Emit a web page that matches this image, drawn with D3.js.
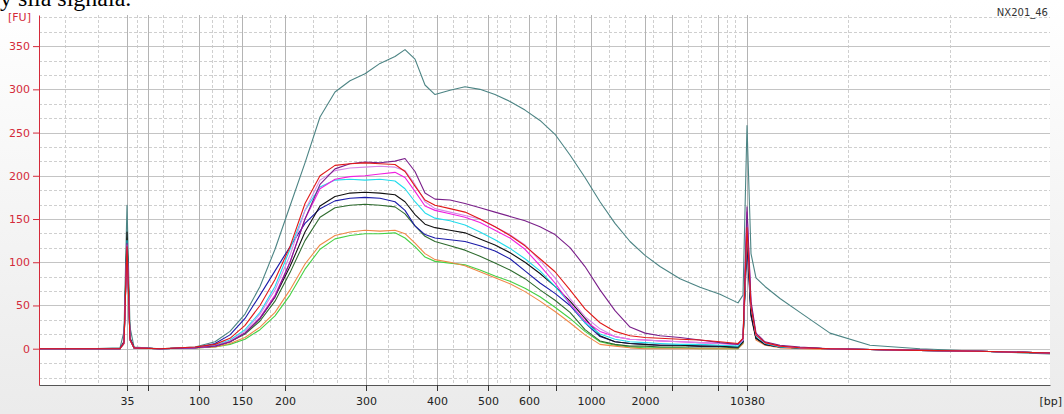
<!DOCTYPE html>
<html>
<head>
<meta charset="utf-8">
<script src="https://cdn.jsdelivr.net/npm/d3@7"></script>
<style>
  body { margin: 0; background: #fff; }
  svg { display: block; }
</style>
</head>
<body>
<div class="container"></div>
<script>
// migration time (s) of each sample point
const times = [30.0, 35.1, 38.1, 38.5, 38.8, 39.1, 39.5, 42.1, 45.6, 47.6, 49.1, 50.6, 52.1, 53.6, 55.1, 56.6, 58.1, 59.6, 61.1, 62.6,
  64.1, 65.6, 66.6, 67.6, 68.6, 69.6, 71.1, 72.6, 74.1, 75.6, 77.1, 78.6, 80.1, 81.6, 83.1, 84.6, 86.1, 87.6, 89.1, 90.6,
  92.1, 94.1, 96.1, 98.1, 99.9, 100.4, 100.8, 101.2, 101.7, 102.6, 104.1, 106.1, 109.1, 113.1, 118.1, 124.1, 131.1];

// ladder peaks: size (bp) and where they migrate
const ladderBp = [35, 50, 100, 150, 200, 300, 400, 500, 600, 700, 1000, 2000, 3000, 7000, 10380];
const ladderTime = [38.8, 40.9, 46.0, 50.3, 54.6, 62.7, 69.8, 74.9, 79.0, 81.7, 85.2, 90.6, 93.3, 97.9, 100.8];
const labelledBp = [35, 100, 150, 200, 300, 400, 500, 600, 1000, 2000, 10380];
const minorGridTimes = [32.6, 35.9, 39.8, 42.4, 44.3, 47.3, 48.4, 49.8, 53.1, 57.4, 59.8, 64.9, 67.4, 71.4, 72.8, 75.8, 77.1,
  80.7, 83.5, 87.0, 88.6, 91.4, 94.9, 96.2, 98.8, 99.6, 110.9, 121.1];

const yTicks = [0, 50, 100, 150, 200, 250, 300, 350];

// fluorescence (FU) of each sample
const teal = [0, 0, 1, 20, 166, 25, 2, 0, 2, 8, 20, 40, 72, 115, 165, 215, 268, 297, 310, 318,
  330, 338, 346, 335, 305, 294, 299, 303, 300, 294, 286, 276, 264, 248, 224, 198, 170, 145, 124, 108,
  95, 81, 71, 63, 53, 62, 258, 110, 82, 72, 58, 42, 18, 4, 0, -3, -6];
const purple = [0, 0, 0, 8, 122, 12, 1, 0, 1, 3, 8, 18, 35, 60, 100, 150, 190, 208, 214, 216,
  215, 217, 220, 205, 180, 173, 172, 168, 163, 158, 153, 148, 141, 132, 117, 95, 68, 44, 25, 18,
  15, 13, 10, 7, 5, 12, 164, 55, 18, 8, 4, 2, 0, -1, -2, -3, -5];
const red = [0, 0, 0, 6, 118, 10, 1, 0, 2, 5, 12, 27, 50, 80, 118, 168, 200, 212, 214, 215,
  214, 213, 205, 188, 172, 166, 162, 158, 150, 141, 131, 119, 104, 89, 68, 46, 30, 20, 15, 13,
  12, 11, 10, 8, 6, 12, 140, 48, 16, 7, 3, 1, 0, -1, -2, -3, -5];
const orchid = [0, 0, 0, 6, 120, 10, 1, 0, 1, 3, 9, 20, 40, 68, 108, 160, 195, 206, 209, 210,
  211, 210, 206, 190, 170, 162, 158, 154, 150, 141, 132, 120, 102, 82, 58, 37, 23, 14, 11, 10,
  9, 8, 7, 6, 5, 10, 150, 50, 16, 7, 3, 1, 0, -1, -2, -3, -5];
const magenta = [0, 0, 0, 6, 120, 10, 1, 0, 1, 3, 8, 18, 36, 62, 100, 150, 185, 196, 199, 200,
  202, 204, 198, 182, 165, 160, 156, 152, 146, 137, 128, 115, 96, 76, 52, 32, 20, 14, 11, 10,
  9, 8, 7, 6, 5, 10, 158, 52, 16, 7, 3, 1, 0, -1, -2, -3, -5];
const cyan = [0, 0, 0, 6, 125, 10, 1, 0, 1, 4, 10, 22, 42, 72, 115, 160, 187, 195, 196, 195,
  196, 194, 185, 170, 157, 151, 148, 143, 135, 126, 116, 104, 90, 72, 52, 30, 17, 11, 8, 7,
  6, 5, 5, 4, 3, 10, 145, 48, 15, 6, 2, 1, 0, -1, -2, -3, -5];
const black = [0, 0, 0, 8, 135, 12, 1, 0, 1, 3, 8, 18, 35, 60, 95, 135, 165, 176, 180, 181,
  180, 178, 170, 155, 144, 140, 137, 134, 127, 120, 111, 100, 87, 72, 55, 35, 15, 8, 6, 5,
  4, 4, 3, 3, 2, 8, 132, 40, 12, 5, 2, 1, 0, -1, -2, -3, -5];
const blue = [0, 0, 0, 7, 125, 11, 1, 0, 1, 6, 16, 35, 62, 90, 118, 145, 162, 171, 174, 175,
  174, 170, 160, 142, 132, 128, 126, 124, 119, 113, 104, 90, 76, 64, 50, 30, 14, 8, 6, 5,
  4, 4, 3, 3, 2, 8, 120, 38, 12, 5, 2, 1, 0, -1, -2, -3, -5];
const darkGreen = [0, 0, 0, 8, 128, 12, 1, 0, 1, 3, 8, 17, 32, 55, 88, 125, 152, 163, 166, 167,
  166, 164, 156, 142, 130, 124, 119, 114, 107, 99, 91, 81, 68, 56, 42, 22, 9, 5, 3, 3,
  2, 2, 2, 2, 1, 8, 138, 42, 12, 5, 2, 1, 0, -1, -2, -3, -5];
const orange = [0, 0, 0, 6, 118, 10, 1, 0, 1, 2, 6, 13, 25, 42, 68, 98, 120, 131, 135, 137,
  136, 137, 133, 122, 110, 103, 100, 96, 89, 82, 75, 66, 55, 43, 30, 16, 5, 3, 1, 0,
  0, 0, 0, 0, 0, 6, 128, 38, 10, 4, 1, 0, -1, -1, -2, -3, -5];
const green = [0, 0, 0, 6, 120, 10, 1, 0, 1, 2, 5, 11, 22, 38, 62, 92, 115, 127, 131, 133,
  133, 134, 128, 118, 106, 101, 99, 97, 91, 84, 78, 70, 60, 48, 35, 20, 8, 4, 2, 1,
  1, 1, 0, 0, 0, 6, 142, 42, 12, 5, 2, 1, 0, -1, -2, -3, -5];

const series = [teal, green, orange, darkGreen, blue, black, cyan, magenta, orchid, purple, red];
const colors = ['#4c8484', '#44d044', '#f08848', '#2e6b2e', '#1a1aa8', '#111111', '#22dcec', '#f020e0', '#d888e8', '#7a1f8a', '#e01818'];

const width = 1064, height = 414;
const margin = {left: 39, right: 14, top: 15, bottom: 29};

const svg = d3.select('.container').append('svg')
  .attr('width', width)
  .attr('height', height);

const grad = svg.append('defs').append('linearGradient')
  .attr('id', 'bg').attr('x1', 0).attr('y1', 0).attr('x2', 0).attr('y2', 1);
grad.append('stop').attr('offset', '0%').attr('stop-color', '#ffffff');
grad.append('stop').attr('offset', '100%').attr('stop-color', '#ebebeb');
svg.append('rect').attr('width', width).attr('height', height).attr('fill', 'url(#bg)');

// scales
const x = d3.scaleLinear().domain([30.0, 131.1]).range([margin.left, width - margin.right]);
const y = d3.scaleLinear().domain([-42, 386]).range([height - margin.bottom, margin.top]);
const bpToTime = d3.scaleLinear().domain(ladderBp).range(ladderTime);

svg.append('rect')
  .attr('x', x.range()[0]).attr('y', y.range()[1])
  .attr('width', x.range()[1] - x.range()[0])
  .attr('height', y.range()[0] - y.range()[1])
  .attr('fill', '#fff');

// grid
const minorY = d3.range(-2, 24).map(i => i * 50 / 3).filter(v => v % 50 !== 0 && Math.abs(v % 50) > 0.1);
svg.append('g').selectAll('line').data(minorY).enter().append('line')
  .attr('x1', x.range()[0]).attr('x2', x.range()[1])
  .attr('y1', d => Math.round(y(d)) + 0.5).attr('y2', d => Math.round(y(d)) + 0.5)
  .attr('stroke', '#cfcfcf').attr('stroke-dasharray', '3,2');
svg.append('g').selectAll('line').data(minorGridTimes).enter().append('line')
  .attr('x1', d => Math.round(x(d)) + 0.5).attr('x2', d => Math.round(x(d)) + 0.5)
  .attr('y1', y.range()[1]).attr('y2', y.range()[0])
  .attr('stroke', '#cfcfcf').attr('stroke-dasharray', '3,2');
svg.append('g').selectAll('line').data(yTicks).enter().append('line')
  .attr('x1', x.range()[0]).attr('x2', x.range()[1])
  .attr('y1', d => Math.round(y(d)) + 0.5).attr('y2', d => Math.round(y(d)) + 0.5)
  .attr('stroke', '#c4c4c4');
svg.append('g').selectAll('line').data(ladderBp).enter().append('line')
  .attr('x1', d => Math.round(x(bpToTime(d))) + 0.5).attr('x2', d => Math.round(x(bpToTime(d))) + 0.5)
  .attr('y1', y.range()[1]).attr('y2', y.range()[0])
  .attr('stroke', '#b4b4b4');

// traces
const line = d3.line()
  .x((d, i) => x(times[i]))
  .y(d => y(d));

svg.append('g').selectAll('path').data(series).enter().append('path')
  .attr('d', d => line(d))
  .attr('fill', 'none')
  .attr('stroke', (d, i) => colors[i])
  .attr('stroke-width', 1.1)
  .attr('stroke-linejoin', 'round');

// axes
const xAxis = d3.axisBottom(x)
  .tickValues(ladderBp.map(d => bpToTime(d)))
  .tickFormat((d, i) => labelledBp.includes(ladderBp[i]) ? ladderBp[i] : '')
  .tickSize(6).tickSizeOuter(0).tickPadding(6);
const gx = svg.append('g')
  .attr('transform', `translate(0, ${y.range()[0]})`)
  .call(xAxis);
gx.selectAll('text').attr('fill', '#222').style('font', '11px "DejaVu Sans", sans-serif');
gx.selectAll('line').attr('stroke', '#333');
gx.select('.domain').attr('stroke', '#555');

const yAxis = d3.axisLeft(y).tickValues(yTicks).tickSize(6).tickSizeOuter(0);
const gy = svg.append('g')
  .attr('transform', `translate(${margin.left}, 0)`)
  .call(yAxis);
gy.selectAll('text').attr('fill', '#d42a3a').style('font', '11px "DejaVu Sans", sans-serif');
gy.selectAll('line').attr('stroke', '#d42a3a');
gy.select('.domain').attr('stroke', '#d42a3a');

// labels
svg.append('text').attr('x', 8).attr('y', 21).text('[FU]')
  .attr('fill', '#d42a3a').style('font', '11px "DejaVu Sans", sans-serif');
svg.append('text').attr('x', 1062).attr('y', 405).attr('text-anchor', 'end').text('[bp]')
  .attr('fill', '#222').style('font', '11px "DejaVu Sans", sans-serif');
svg.append('text').attr('x', 1048).attr('y', 16).attr('text-anchor', 'end').text('NX201_46')
  .attr('fill', '#333').style('font', '10px "DejaVu Sans", sans-serif');
svg.append('text').attr('x', 0).attr('y', 6).text('y sila signala.')
  .attr('fill', '#000').style('font', '24px "Liberation Serif", serif');
</script>
</body>
</html>
